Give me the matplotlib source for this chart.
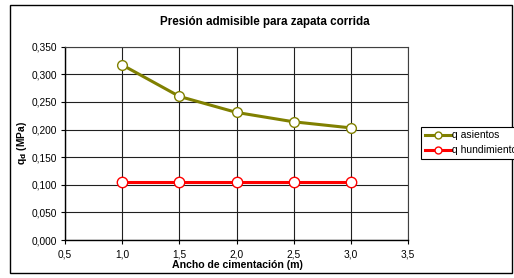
import matplotlib
matplotlib.use("Agg")
import matplotlib.pyplot as plt
from matplotlib.patches import Rectangle

plt.rcParams['font.family'] = ['Liberation Sans', 'DejaVu Sans']

ancho = [1.0, 1.5, 2.0, 2.5, 3.0]
q_asientos = [0.317, 0.260, 0.231, 0.214, 0.203]
q_hundimiento = [0.105, 0.105, 0.105, 0.105, 0.105]

x_ticks = [0.5, 1.0, 1.5, 2.0, 2.5, 3.0, 3.5]
x_labels = ['0,5', '1,0', '1,5', '2,0', '2,5', '3,0', '3,5']
y_ticks = [0.0, 0.05, 0.10, 0.15, 0.20, 0.25, 0.30, 0.35]
y_labels = ['0,000', '0,050', '0,100', '0,150', '0,200', '0,250', '0,300', '0,350']

W, H = 514, 278
fig = plt.figure(figsize=(W / 100, H / 100), dpi=100)
fig.patch.set_facecolor('white')

# outer border
fig.patches.append(Rectangle((10 / W, 1 - 273 / H), (512 - 10) / W, (273 - 5) / H,
                             transform=fig.transFigure, fill=False,
                             edgecolor='black', linewidth=1.0))

ax = fig.add_axes([65 / W, 1 - 240 / H, (408 - 65) / W, (240 - 46.7) / H])
ax.set_xlim(0.5, 3.5)
ax.set_ylim(0.0, 0.35)
ax.set_xticks(x_ticks)
ax.set_xticklabels(x_labels)
ax.set_yticks(y_ticks)
ax.set_yticklabels(y_labels)
ax.tick_params(labelsize=7.3, length=3, width=0.8, direction='out', pad=3, colors='black')
ax.tick_params(axis='x', pad=4)
ax.grid(True, color='#202020', linewidth=0.8)
ax.set_axisbelow(True)
for s in ['left', 'bottom']:
    ax.spines[s].set_color('black')
    ax.spines[s].set_linewidth(1.0)
for s in ['top', 'right']:
    ax.spines[s].set_color('#404040')
    ax.spines[s].set_linewidth(0.8)

ax.plot(ancho, q_asientos, color='#808000', linewidth=2.2, marker='o',
        markersize=7, markerfacecolor='white', markeredgecolor='#808000',
        markeredgewidth=1.0, label='q asientos', clip_on=False, zorder=3)
ax.plot(ancho, q_hundimiento, color='#FF0000', linewidth=2.2, marker='o',
        markersize=7.5, markerfacecolor='white', markeredgecolor='#FF0000',
        markeredgewidth=1.0, label='q hundimiento', clip_on=False, zorder=3)

fig.text(265 / W, 1 - 22 / H, 'Presión admisible para zapata corrida', fontsize=8.4,
         fontweight='bold', ha='center', va='center')
fig.text(237 / W, 1 - 265 / H, 'Ancho de cimentación (m)', fontsize=7.6,
         fontweight='bold', ha='center', va='center')
fig.text(22 / W, 1 - 143 / H, r'q$_\mathbf{d}$ (MPa)', fontsize=7.4,
         fontweight='bold', ha='center', va='center', rotation=90)

leg = fig.legend(loc='upper left', bbox_to_anchor=(421 / W, 1 - 126.5 / H), fontsize=7.5,
                 frameon=True, fancybox=False, edgecolor='black', framealpha=1,
                 handlelength=2.5, handletextpad=0.15, borderpad=0.35, labelspacing=0.5,
                 borderaxespad=0)
leg.get_frame().set_linewidth(0.8)
for h in leg.legend_handles:
    h.set_markersize(5)

fig.savefig('out.png', dpi=100, facecolor='white')
